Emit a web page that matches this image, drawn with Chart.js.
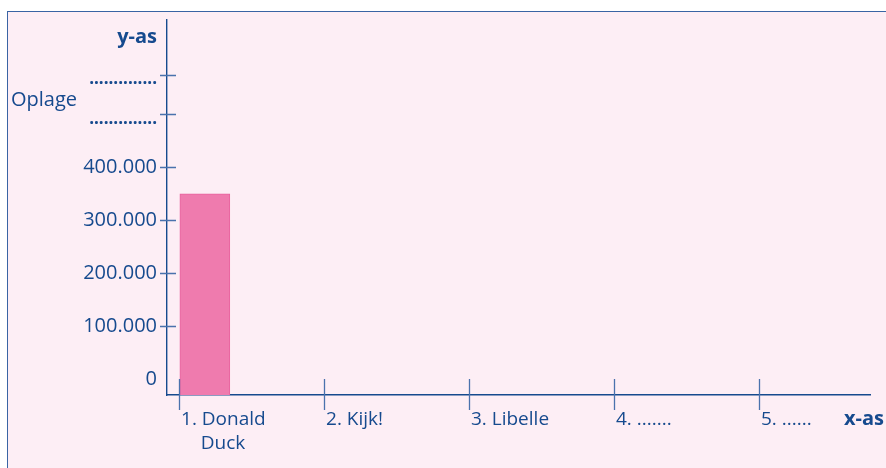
<!DOCTYPE html>
<html>
<head>
<meta charset="utf-8">
<script src="https://cdn.jsdelivr.net/npm/chart.js@4"></script>
<style>
  html, body { margin: 0; padding: 0; background: #fff; }
  #wrap { position: relative; width: 886px; height: 468px; }
  #paneel {
    position: absolute; left: 7px; top: 11px; right: 0; bottom: 0;
    background: #fdeef5;
    border-top: 1.5px solid #3a64a4;
    border-left: 1.5px solid #3a64a4;
  }
  #grafiek { position: absolute; left: 0; top: 0; }
</style>
</head>
<body>
<div id="wrap">
  <div id="paneel"></div>
  <canvas id="grafiek" width="886" height="468"></canvas>
</div>
<script>
// gegevens van het werkblad
const categories = [['1. Donald', '    Duck'], '2. Kijk!', '3. Libelle', '4. .......', '5. ......'];
const oplage = [350000, null, null, null, null];
const yTicks = [0, 100000, 200000, 300000, 400000, 500000, 575000];
const yTickLabels = ['0', '100.000', '200.000', '300.000', '400.000', '..............', '..............'];

const blauw = '#164a8e';
const streepje = '#4a72ad';

const yMin = -30000, yMax = 678000;
// x-positie van de categorieën (0..4) op een lineaire as
const xMin = -0.083, xMax = 4.766;
// de staaf staat rechts naast het streepje, dus een verschoven verborgen as
const shift = 0.178;

// streepjes die door de assen heen lopen + astitels
const assen = {
  id: 'assen',
  afterDraw(chart) {
    const { ctx, chartArea, scales: { x, y } } = chart;
    ctx.save();
    ctx.strokeStyle = streepje;
    ctx.lineWidth = 1.3;
    ctx.beginPath();
    yTicks.forEach(v => {
      if (v === 0) return;
      const py = Math.round(y.getPixelForValue(v)) + 0.5;
      ctx.moveTo(chartArea.left - 7, py);
      ctx.lineTo(chartArea.left + 9, py);
    });
    categories.forEach((c, i) => {
      const px = Math.round(x.getPixelForValue(i)) + 0.5;
      ctx.moveTo(px, chartArea.bottom - 16);
      ctx.lineTo(px, chartArea.bottom + 15);
    });
    ctx.stroke();

    ctx.fillStyle = blauw;
    ctx.textBaseline = 'middle';
    ctx.font = 'bold 20px "Open Sans"';
    ctx.textAlign = 'right';
    ctx.fillText('y-as', chartArea.left - 10, chartArea.top + 17);
    ctx.fillText('x-as', chart.width - 2, chartArea.bottom + 24);
    ctx.font = '20px "Open Sans"';
    ctx.textAlign = 'left';
    const mid = (y.getPixelForValue(yTicks[5]) + y.getPixelForValue(yTicks[6])) / 2 + 6;
    ctx.fillText('Oplage', 11, mid);
    ctx.restore();
  }
};

const ctx = document.getElementById('grafiek').getContext('2d');
const grafiek = new Chart(ctx, {
  type: 'bar',
  data: {
    datasets: [{
      label: 'Oplage',
      data: oplage.map((v, i) => ({ x: i, y: v })).filter(p => p.y !== null),
      xAxisID: 'xBar',
      base: yMin,
      backgroundColor: '#ef7bae',
      borderColor: '#e8639f',
      borderWidth: 1,
      barThickness: 50
    }]
  },
  options: {
    responsive: false,
    animation: false,
    layout: { padding: { left: 0, right: 16, top: 20, bottom: 0 } },
    plugins: { legend: { display: false }, tooltip: { enabled: false } },
    scales: {
      x: {
        type: 'linear',
        min: xMin,
        max: xMax,
        offset: false,
        afterBuildTicks: s => { s.ticks = categories.map((c, i) => ({ value: i })); },
        afterFit: s => { s.height = 73; s.paddingLeft = 0; s.paddingRight = 0; },
        grid: { display: false, drawTicks: false, offset: false },
        border: { display: true, color: blauw, width: 1.4 },
        ticks: {
          align: 'start',
          labelOffset: 2,
          padding: 12,
          autoSkip: false,
          maxRotation: 0,
          color: blauw,
          font: { family: 'Open Sans', size: 19, lineHeight: 1.3 },
          callback: v => categories[v]
        }
      },
      xBar: {
        type: 'linear',
        display: false,
        offset: false,
        min: xMin - shift,
        max: xMax - shift
      },
      y: {
        type: 'linear',
        min: yMin,
        max: yMax,
        afterBuildTicks: s => { s.ticks = yTicks.map(v => ({ value: v })); },
        afterFit: s => { s.width = 167; s.paddingTop = 0; s.paddingBottom = 0; },
        grid: { display: false, drawTicks: false },
        border: { display: true, color: blauw, width: 1.4 },
        ticks: {
          padding: 10,
          color: blauw,
          font: c => ({ family: 'Open Sans', size: c.index >= 5 ? 17 : 20, weight: c.index >= 5 ? 'bold' : 'normal', lineHeight: c.index >= 5 ? 0.55 : 1 }),
          callback: (v, i) => i >= 5 ? ['', yTickLabels[i]] : yTickLabels[i]
        }
      }
    }
  },
  plugins: [assen]
});
</script>
</body>
</html>
